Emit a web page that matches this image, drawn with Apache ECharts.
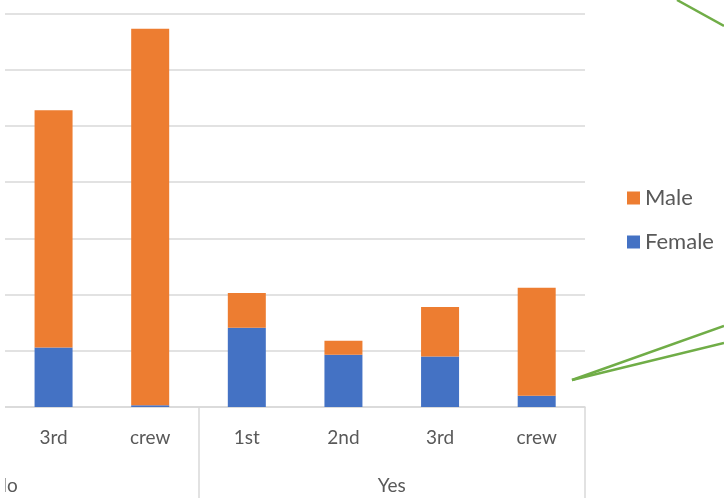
<!DOCTYPE html>
<html>
<head>
<meta charset="utf-8">
<script src="https://cdn.jsdelivr.net/npm/echarts@6/dist/echarts.min.js"></script>
<style>
html, body { margin: 0; padding: 0; background: #fff; }
#chart { width: 724px; height: 498px; }
</style>
</head>
<body>
<div id="chart"></div>
<script>
var classes = ['1st', '2nd', '3rd', 'crew', '1st', '2nd', '3rd', 'crew'];
var survived = ['No', 'Yes'];
var female = [4, 13, 106, 3, 141, 93, 90, 20];
var male = [118, 154, 422, 670, 62, 25, 88, 192];

var font = 'Lato, "Open Sans", sans-serif';
var chart = echarts.init(document.getElementById('chart'));
chart.setOption({
	animation: false,
	grid: { left: -188, right: 139, top: 13.5, bottom: 91, outerBoundsMode: 'none', containLabel: false },
	legend: {
		data: ['Male', 'Female'],
		orient: 'vertical',
		left: 622, top: 182,
		itemWidth: 13, itemHeight: 13, itemGap: 22,
		icon: 'rect',
		textStyle: { color: '#595959', fontSize: 22, fontFamily: font }
	},
	xAxis: [
		{
			type: 'category',
			data: classes,
			axisLine: { lineStyle: { color: '#D9D9D9', width: 1.5 } },
			axisTick: { show: false },
			axisLabel: { color: '#595959', fontSize: 19, fontFamily: font, margin: 21 }
		},
		{
			type: 'category',
			data: survived,
			position: 'bottom',
			axisLine: { show: false },
			axisTick: { show: true, length: 91, lineStyle: { color: '#D9D9D9', width: 1.5 } },
			axisLabel: { color: '#595959', fontSize: 19, fontFamily: font, margin: 69 }
		}
	],
	yAxis: {
		type: 'value',
		min: 0, max: 700, interval: 100,
		axisLabel: { show: false },
		axisLine: { show: false },
		axisTick: { show: false },
		splitLine: { lineStyle: { color: '#D9D9D9', width: 1.5 } }
	},
	series: [
		{
			name: 'Female', type: 'bar', stack: 'total',
			data: female, barWidth: 38,
			itemStyle: { color: '#4472C4' }
		},
		{
			name: 'Male', type: 'bar', stack: 'total',
			data: male, barWidth: 38,
			itemStyle: { color: '#ED7D31' }
		}
	],
	graphic: [
		{ type: 'rect', shape: { x: 0, y: 0, width: 5, height: 498 }, style: { fill: '#fff' }, z: 100 },
		{ type: 'line', shape: { x1: 677, y1: 0, x2: 724, y2: 26 }, style: { stroke: '#70AD47', lineWidth: 2.5 }, z: 100 },
		{ type: 'line', shape: { x1: 572, y1: 380, x2: 724, y2: 326 }, style: { stroke: '#70AD47', lineWidth: 2.5 }, z: 100 },
		{ type: 'line', shape: { x1: 572, y1: 380, x2: 724, y2: 343 }, style: { stroke: '#70AD47', lineWidth: 2.5 }, z: 100 }
	]
});
</script>
</body>
</html>
